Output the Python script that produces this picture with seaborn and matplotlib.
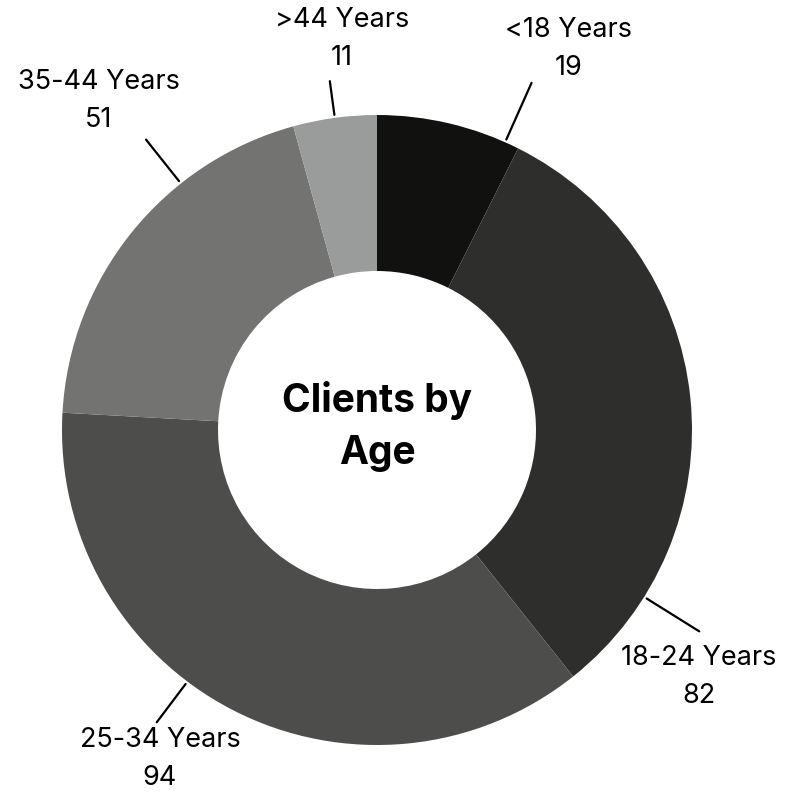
import numpy as np
import seaborn as sns
import matplotlib.pyplot as plt

# Data
groups = ["<18 Years", "18-24 Years", "25-34 Years", "35-44 Years", ">44 Years"]
clients = [19, 82, 94, 51, 11]
colors = ["#111110", "#2e2e2c", "#4d4d4b", "#737472", "#999c9a"]

# label layout (angle of leader line, outer end radius, text centre in px from top-left)
label_angle = [66, -32, 233, 128.5, 97.7]
line_end = [380, 380, 366, 371, 352]
text_pos = [(569, 30), (699, 658), (160, 740), (99, 82), (342, 20)]

sns.set_style("white")
plt.rcParams["font.family"] = ["Inter", "DejaVu Sans"]
plt.rcParams["text.color"] = "black"

W, H = 797, 793
cx, cy = 377, H - 430
R = 315

fig = plt.figure(figsize=(W / 100, H / 100), dpi=100)
ax = fig.add_axes([0, 0, 1, 1])
ax.pie(clients, colors=colors, startangle=90, counterclock=False,
       radius=R, center=(cx, cy), wedgeprops=dict(width=R - 159, linewidth=0))
ax.set_xlim(0, W)
ax.set_ylim(0, H)
ax.set_aspect("equal")
ax.axis("off")

for g, v, a, r2, (tx, ty) in zip(groups, clients, label_angle, line_end, text_pos):
    t = np.deg2rad(a)
    ax.plot([cx + 318 * np.cos(t), cx + r2 * np.cos(t)],
            [cy + 318 * np.sin(t), cy + r2 * np.sin(t)], color="black", lw=1.6)
    ax.text(tx, H - ty, g, ha="center", va="center", fontsize=19.5, color="black")
    ax.text(tx, H - ty - 38, str(v), ha="center", va="center", fontsize=19.5, color="black")

ax.text(cx, H - 401, "Clients by", ha="center", va="center", fontsize=28,
        fontweight="bold", color="black")
ax.text(cx, H - 454, "Age", ha="center", va="center", fontsize=28,
        fontweight="bold", color="black")

fig.savefig("out.png", dpi=100, facecolor="white")
